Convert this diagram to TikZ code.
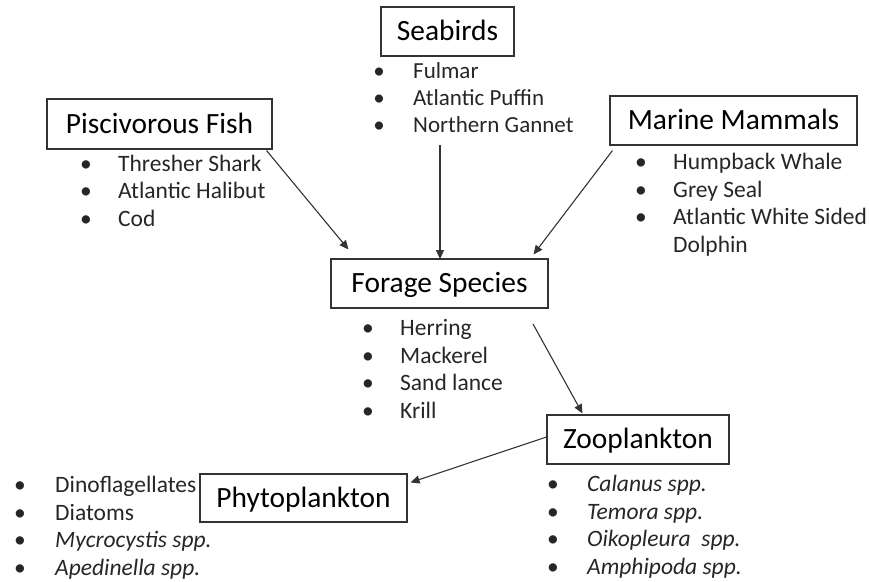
\documentclass[tikz,border=0pt]{standalone}
\usepackage{fontspec}
\setmainfont{Carlito}
\usetikzlibrary{arrows.meta,calc}
\tikzset{
  titlebox/.style={draw=black!80, line width=1.1pt, inner sep=0pt, minimum height=49pt,
    font=\fontsize{29.4}{35}\selectfont, text height=18.8pt, text depth=0pt, text=black},
  itm/.style={anchor=base west, inner sep=0pt, font=\fontsize{23.5}{28}\selectfont, text=black!85},
  bul/.style={anchor=base, inner sep=0pt, font=\fontsize{23.5}{28}\selectfont, text=black!85},
  small/.style={font=\fontsize{23}{27}\selectfont},
  arr/.style={draw=black!80, line width=1.1pt, -{Triangle[length=9pt,width=8pt]}}
}
% \li[style]{name}{bullet x}{text x}{baseline}{text}
\newcommand\li[6][]{\node[bul,#1] (#2b) at (#3,#5) {•}; \node[itm,#1] (#2) at (#4,#5) {#6};}
\begin{document}
\begin{tikzpicture}[x=1pt,y=-1pt]
\useasboundingbox (0,0) rectangle (869,581);
% boxes
\node[titlebox, minimum width=133pt] (sea) at (447.5,31.5) {Seabirds};
\node[titlebox, minimum width=225pt, minimum height=50pt] (pisc) at (159.5,124) {Piscivorous Fish};
\node[titlebox, minimum width=247pt] (mar) at (733.5,120.5) {Marine Mammals};
\node[titlebox, minimum width=217pt] (for) at (439.5,283.5) {Forage Species};
\node[titlebox, minimum width=182pt] (zoo) at (638,439.5) {Zooplankton};
\node[titlebox, minimum width=207pt, minimum height=48pt] (phy) at (303.5,498) {Phytoplankton};
% seabirds list
\li[small]{s1}{379}{413}{78.5}{Fulmar}
\li[small]{s2}{379}{413}{105.5}{Atlantic Puffin}
\li[small]{s3}{379}{413}{132.5}{Northern Gannet}
% piscivorous list
\li{p1}{86}{118}{171}{Thresher Shark}
\li{p2}{86}{118}{198.5}{Atlantic Halibut}
\li{p3}{86}{118}{226}{Cod}
% marine mammals list
\li{m1}{641}{673}{169.5}{Humpback Whale}
\li{m2}{641}{673}{197}{Grey Seal}
\li{m3}{641}{673}{224.5}{Atlantic White Sided}
\node[itm] (m4) at (673,252) {Dolphin};
% forage list
\li{f1}{368}{400}{335.5}{Herring}
\li{f2}{368}{400}{363}{Mackerel}
\li{f3}{368}{400}{390.5}{Sand lance}
\li{f4}{368}{400}{418.5}{Krill}
% zooplankton list
\li{z1}{553}{587}{491.5}{\itshape Calanus spp.}
\li{z2}{553}{587}{519}{\itshape Temora spp.}
\li{z3}{553}{587}{546.5}{\itshape Oikopleura\ \ spp.}
\li{z4}{553}{587}{574.5}{\itshape Amphipoda spp.}
% phytoplankton list
\li{h1}{20}{55}{492.5}{Dinoflagellates}
\li{h2}{20}{55}{520}{Diatoms}
\li{h3}{20}{55}{547.5}{\itshape Mycrocystis spp.}
\li{h4}{20}{55}{575}{\itshape Apedinella spp.}
% arrows
\coordinate (a1s) at ($(pisc.south east)+(-6,1)$);
\coordinate (a1e) at ($(for.north west)+(18,-9)$);
\coordinate (a2s) at (440,145);
\coordinate (a2e) at (440,259);
\coordinate (a3s) at ($(mar.south west)+(3,5)$);
\coordinate (a3e) at ($(for.north east)+(-15,-4)$);
\coordinate (a4s) at (533,324);
\coordinate (a4e) at ($(zoo.north west)+(36,-1)$);
\coordinate (a5s) at ($(zoo.west)+(0,-2.5)$);
\coordinate (a5e) at ($(phy.north east)+(3,9)$);
\draw[arr] (a1s) -- (a1e);
\draw[arr] (a2s) -- (a2e);
\draw[arr] (a3s) -- (a3e);
\draw[arr] (a4s) -- (a4e);
\draw[arr] (a5s) -- (a5e);
\end{tikzpicture}
\end{document}
